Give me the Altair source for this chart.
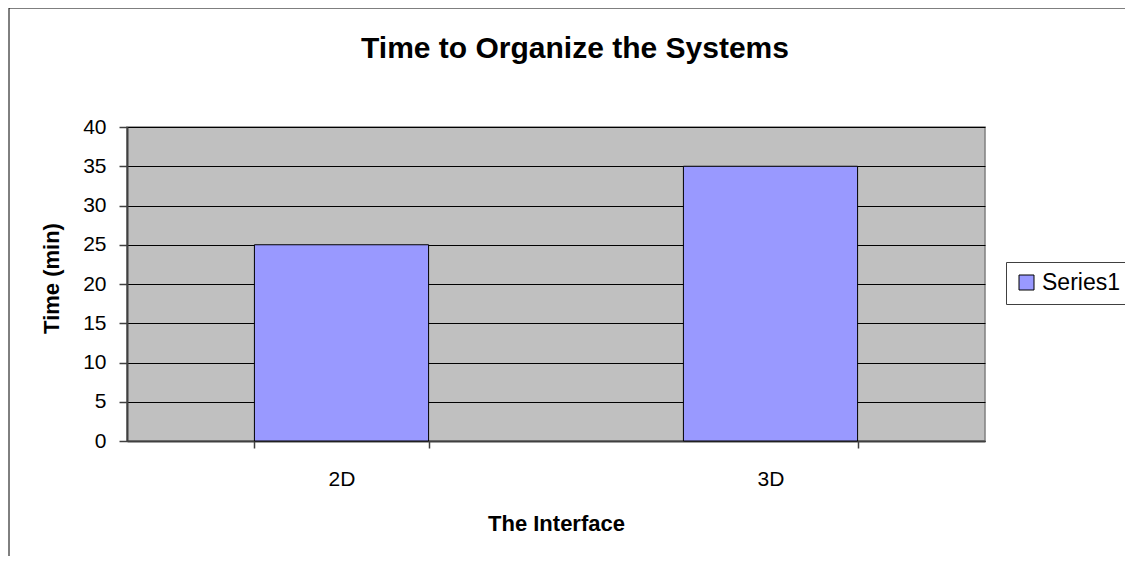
import altair as alt
import pandas as pd

# Data
interfaces = ["2D", "3D"]
times = [25, 35]
series_names = ["Series1", "Series1"]

FONT = "Liberation Sans"

df = pd.DataFrame({"Interface": interfaces, "Time": times, "Series": series_names})

bars = alt.Chart(df).mark_bar(
    fill="#9999FF", stroke="black", strokeWidth=1
).encode(
    x=alt.X(
        "Interface:N",
        sort=interfaces,
        scale=alt.Scale(paddingInner=0.594, paddingOuter=0.297),
        axis=alt.Axis(
            title="The Interface",
            labelAngle=0,
            labelFont=FONT, labelFontSize=21, labelColor="black",
            labelBaseline="alphabetic", labelPadding=37,
            tickBand="extent", tickSize=7, tickColor="#404040", tickWidth=1.5,
            domainColor="#404040", domainWidth=2,
            titleFont=FONT, titleFontSize=22, titleFontWeight="bold", titleColor="black",
            titleBaseline="alphabetic", titleY=89, titleX=429,
            grid=False,
        ),
    ),
    y=alt.Y(
        "Time:Q",
        scale=alt.Scale(domain=[0, 40], nice=False),
        axis=alt.Axis(
            title="Time (min)",
            values=[0, 5, 10, 15, 20, 25, 30, 35, 40],
            labelFont=FONT, labelFontSize=21, labelColor="black", labelPadding=13,
            tickSize=8, tickColor="#404040", tickWidth=1.5,
            domainColor="#404040", domainWidth=2,
            grid=True, gridColor="black", gridWidth=1, gridOpacity=1,
            titleFont=FONT, titleFontSize=22, titleFontWeight="bold", titleColor="black",
            titleAngle=-90, titleBaseline="middle", titleAlign="center",
            titleX=-76, titleY=151,
        ),
    ),
    color=alt.Color(
        "Series:N",
        scale=alt.Scale(range=["#9999FF"]),
        legend=alt.Legend(
            title=None, orient="none", legendX=879, legendY=135,
            labelFont=FONT, labelFontSize=23, labelColor="black", labelOffset=4,
            symbolType="square", symbolSize=225, symbolStrokeColor="black",
            symbolStrokeWidth=1, symbolFillColor="#9999FF",
            strokeColor="#404040", fillColor="white", padding=9, cornerRadius=0,
        ),
    ),
)

frame = alt.Chart(pd.DataFrame({"f": [0]})).mark_rect(
    fill=None, stroke="black", strokeWidth=1
).encode(
    x=alt.value(-118), x2=alt.value(1200),
    y=alt.value(-119), y2=alt.value(600),
)

chart = alt.layer(frame, bars).properties(
    width=858, height=314,
    padding={"left": 119, "top": 119, "right": 140, "bottom": 115},
    autosize=alt.AutoSizeParams(type="none"),
    title=alt.Title(
        "Time to Organize the Systems",
        font=FONT, fontSize=30, fontWeight="bold", color="black",
        anchor="middle", frame="group", baseline="alphabetic", offset=-80, dx=19,
    ),
).configure_view(
    fill="#C0C0C0", stroke="#808080", strokeWidth=1.5
)

chart.save("out.html", embed_options={"renderer": "svg", "actions": False})
